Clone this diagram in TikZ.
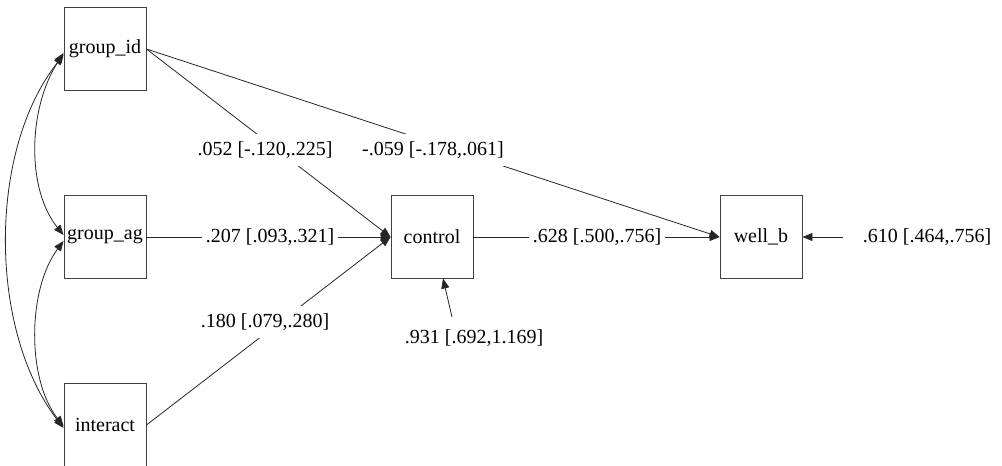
\documentclass[tikz,border=0pt]{standalone}
\usepackage{fontspec}
\setmainfont{Liberation Serif}
\usetikzlibrary{arrows.meta}
\begin{document}
\begin{tikzpicture}[x=1pt,y=-1pt,
  var/.style={draw=black!75, line width=0.9pt, minimum width=82pt, minimum height=83pt, inner sep=0pt, font=\rmfamily\fontsize{20}{24}\selectfont},
  lab/.style={fill=white, inner xsep=4pt, inner ysep=8pt, font=\rmfamily\fontsize{20}{24}\selectfont},
  conn/.style={line width=0.8pt, draw=black!85},
  arr/.style={conn, -{Triangle[length=10pt,width=8pt]}},
  darr/.style={conn, {Triangle[length=10pt,width=8pt]}-{Triangle[length=10pt,width=8pt]}}]
\useasboundingbox (0,0) rectangle (1002,466);
\node[var] (gid) at (105,49) {group\_id};
\node[var] (gag) at (105,237) {group\_ag};
\node[var] (int) at (105,425) {interact};
\node[var] (ctl) at (432,237) {control};
\node[var] (wb) at (761,237) {well\_b};
% paths
\draw[arr] (gid.east) -- (ctl.west);
\draw[arr] (gid.east) -- (wb.west);
\draw[arr] (gag.east) -- (ctl.west);
\draw[arr] (int.east) -- (ctl.west);
\draw[arr] (ctl.east) -- (wb.west);
\node[lab] (l1) at (265,150) {.052 [-.120,.225]};
\node[lab] (l2) at (433,150) {-.059 [-.178,.061]};
\node[lab] (l3) at (270,237) {.207 [.093,.321]};
\node[lab] (l4) at (265,322) {.180 [.079,.280]};
\node[lab] (l5) at (597,237) {.628 [.500,.756]};
% residuals
\node[lab] (e1) at (474,338) {.931 [.692,1.169]};
\coordinate (e1s) at (452,317);
\coordinate (ctltip) at (443,278.5);
\draw[arr] (e1s) -- (ctltip);
\node[lab] (e2) at (927,237) {.610 [.464,.756]};
\coordinate (e2s) at (843,237);
\draw[arr] (e2s) -- (wb.east);
% covariances
\draw[darr] ([yshift=-4pt]gid.west) .. controls (27,110) and (27,190) .. ([yshift=2pt]gag.west);
\draw[darr] ([yshift=-4pt]gag.west) .. controls (27,290) and (27,380) .. ([yshift=-1pt]int.west);
\draw[darr] ([yshift=-6pt]gid.west) .. controls (-12,150) and (-12,330) .. ([yshift=-3pt]int.west);
\end{tikzpicture}
\end{document}
